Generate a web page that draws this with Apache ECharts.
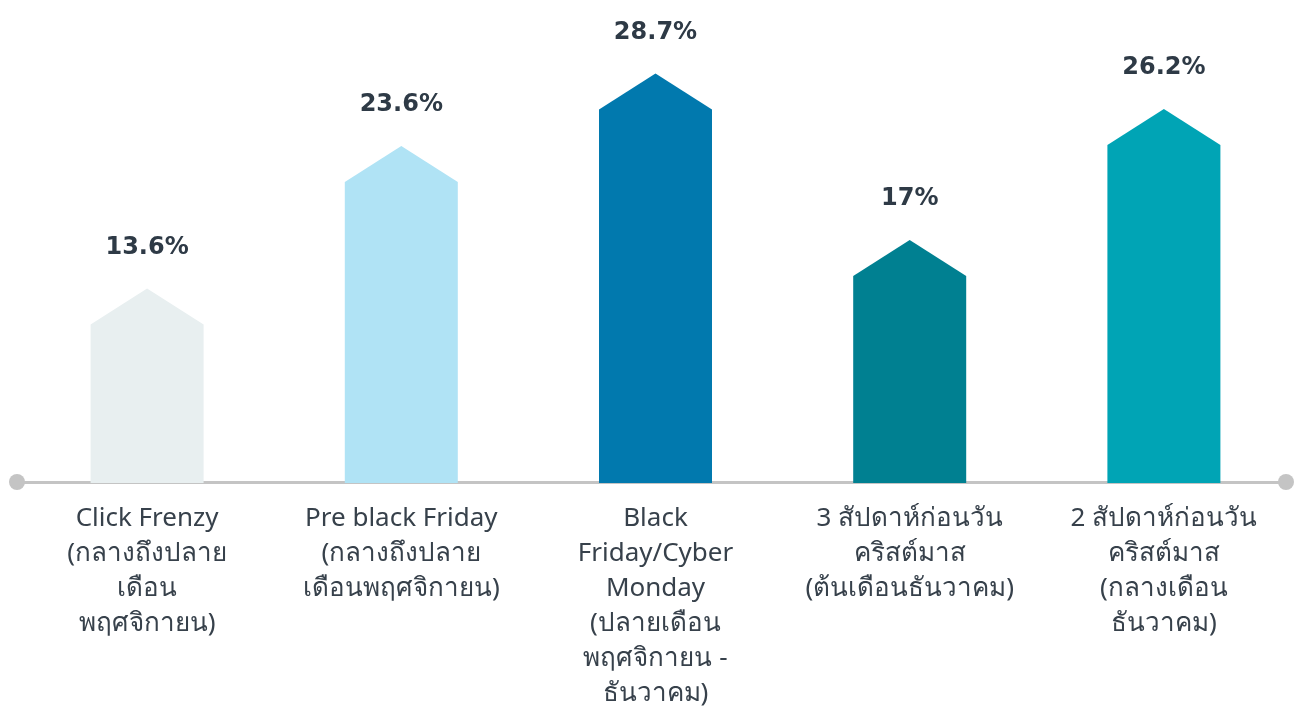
<!DOCTYPE html>
<html>
<head>
<meta charset="utf-8">
<script src="https://cdn.jsdelivr.net/npm/echarts@6/dist/echarts.min.js"></script>
<style>
  html, body { margin: 0; padding: 0; background: #fff; }
  #chart { width: 1294px; height: 706px; }
</style>
</head>
<body>
<div id="chart"></div>
<script>
const categories = [
  'Click Frenzy\n(กลางถึงปลาย\nเดือน\nพฤศจิกายน)',
  'Pre black Friday\n(กลางถึงปลาย\nเดือนพฤศจิกายน)',
  'Black\nFriday/Cyber\nMonday\n(ปลายเดือน\nพฤศจิกายน -\nธันวาคม)',
  '3 สัปดาห์ก่อนวัน\nคริสต์มาส\n(ต้นเดือนธันวาคม)',
  '2 สัปดาห์ก่อนวัน\nคริสต์มาส\n(กลางเดือน\nธันวาคม)'
];
const values = [13.6, 23.6, 28.7, 17, 26.2];
const valueLabels = ['13.6%', '23.6%', '28.7%', '17%', '26.2%'];
const barColors = ['#e8eff0', '#b0e3f5', '#0179ae', '#008091', '#00a4b5'];

const chart = echarts.init(document.getElementById('chart'));

// house-shaped bar: rectangle with a triangular roof, peak at the value
function renderItem(params, api) {
  const i = api.value(0);
  const v = api.value(1);
  const base = api.coord([i, 0]);
  const peak = api.coord([i, v]);
  const half = 56.5;
  const roof = 36;
  const x = base[0];
  return {
    type: 'group',
    children: [
      {
        type: 'polygon',
        shape: {
          points: [
            [x - half, base[1] + 1],
            [x - half, peak[1] + roof],
            [x, peak[1]],
            [x + half, peak[1] + roof],
            [x + half, base[1] + 1]
          ]
        },
        style: { fill: barColors[i] }
      },
      {
        type: 'text',
        x: x,
        y: peak[1] - 41,
        style: {
          text: valueLabels[i],
          fill: '#2e3a46',
          font: 'bold 24px "DejaVu Sans", sans-serif',
          align: 'center',
          verticalAlign: 'middle'
        }
      }
    ]
  };
}

chart.setOption({
  animation: false,
  grid: { left: 20, right: 3, top: 55, bottom: 224, outerBoundsMode: 'none' },
  xAxis: {
    type: 'category',
    data: categories,
    axisTick: { show: false },
    axisLine: {
      lineStyle: { color: '#c4c4c4', width: 3 },
      symbol: ['circle', 'circle'],
      symbolSize: [16, 16],
      symbolOffset: [-3, -5]
    },
    axisLabel: {
      interval: 0,
      margin: 19,
      color: '#37414b',
      fontSize: 26,
      lineHeight: 35,
      fontFamily: '"Noto Sans", "DejaVu Sans", sans-serif'
    }
  },
  yAxis: {
    type: 'value',
    min: 0,
    max: 30,
    show: false,
    splitLine: { show: false }
  },
  series: [{
    type: 'custom',
    renderItem: renderItem,
    data: values.map((v, i) => [i, v])
  }]
});

window.addEventListener('resize', () => chart.resize());
</script>
</body>
</html>
